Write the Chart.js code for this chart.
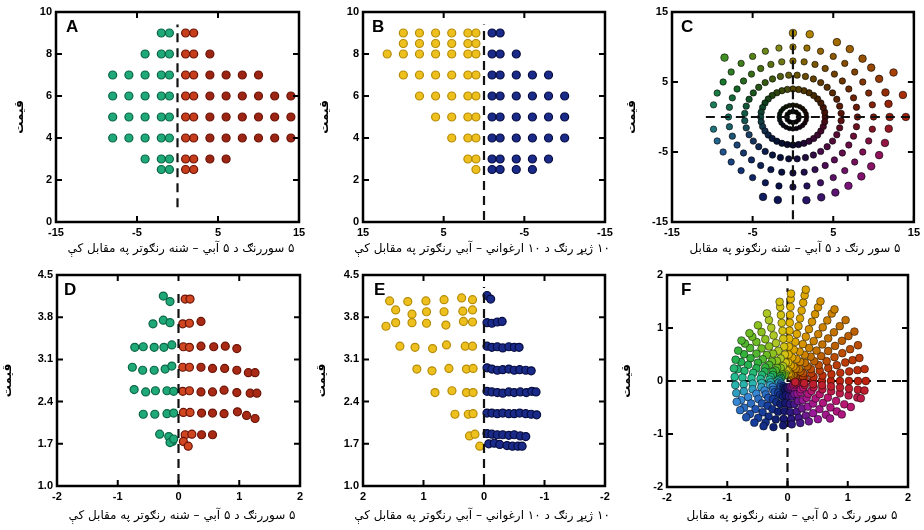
<!DOCTYPE html>
<html lang="ps">
<head>
<meta charset="UTF-8">
<title>قیمت – رنګونه</title>
<script src="https://cdn.jsdelivr.net/npm/chart.js"></script>
<style>
    body { margin: 0; background: #fff; }
    #wrap { position: relative; width: 924px; height: 530px; overflow: hidden; }
    canvas { position: absolute; }
    .tag { position: absolute; font: bold 17px "Liberation Sans", Arial, sans-serif; line-height: 1; color: #000; }
    .xt { position: absolute; width: 300px; text-align: center; direction: rtl; font: 12px "DejaVu Sans", sans-serif; line-height: 16px; color: #000; white-space: nowrap; }
</style>
</head>
<body>
<div id="wrap">
    <canvas id="chA" width="310" height="262" style="left:0;top:0"></canvas>
    <canvas id="chB" width="310" height="262" style="left:305px;top:0"></canvas>
    <canvas id="chC" width="310" height="262" style="left:614px;top:0"></canvas>
    <canvas id="chD" width="310" height="268" style="left:0;top:262px"></canvas>
    <canvas id="chE" width="310" height="268" style="left:305px;top:262px"></canvas>
    <canvas id="chF" width="310" height="268" style="left:614px;top:262px"></canvas>

    <div class="tag" style="left:66px;top:18px">A</div>
    <div class="tag" style="left:372px;top:18px">B</div>
    <div class="tag" style="left:681px;top:18px">C</div>
    <div class="tag" style="left:64px;top:281px">D</div>
    <div class="tag" style="left:374px;top:281px">E</div>
    <div class="tag" style="left:681px;top:281px">F</div>

    <div class="xt" id="tA" style="left:31px;top:240px"></div>
    <div class="xt" id="tB" style="left:332px;top:240px"></div>
    <div class="xt" id="tC" style="left:645px;top:240px"></div>
    <div class="xt" id="tD" style="left:32px;top:507px"></div>
    <div class="xt" id="tE" style="left:332px;top:507px"></div>
    <div class="xt" id="tF" style="left:642px;top:507px"></div>
</div>
<script>
    // ---- texts
    const yTitle = "قیمت";
    const xTitleRG = "۵ سوررنګ د ۵ آبي – شنه رنګوتر په مقابل کې";
    const xTitleYB = "۱۰ ژیړ رنګ د ۱۰ ارغواني – آبي رنګوتر په مقابل کې";
    const xTitleRing = "۵ سور رنګ د ۵ آبي – شنه رنګونو په مقابل";

    // ---- tick values
    const ticks15 = [-15, -5, 5, 15];
    const ticks10 = [0, 2, 4, 6, 8, 10];
    const ticks2 = [-2, -1, 0, 1, 2];
    const ticksD = [1.0, 1.7, 2.4, 3.1, 3.8, 4.5];

    // ---- panel A (rows of y, x values per row)
    const aRows = [9, 8, 7, 6, 5, 4, 3, 2.5];
    const aGreenX = [[-2, -1], [-4, -2, -1], [-8, -6, -4, -2, -1], [-8, -6, -4, -2, -1], [-8, -6, -4, -2, -1], [-8, -6, -4, -2, -1], [-4, -2, -1], [-2, -1]];
    const aRedX = [[1, 2], [1, 2, 4], [1, 2, 4, 6, 8, 10], [1, 2, 4, 6, 8, 10, 12, 14], [1, 2, 4, 6, 8, 10, 12, 14], [1, 2, 4, 6, 8, 10, 12, 14], [1, 2, 4, 6], [1, 2]];
    const aDash = [[0, 0.7], [0, 9.4]];

    // ---- panel B
    const bRows = [9, 8.5, 8, 7, 6, 5, 4, 3, 2.5];
    const bYellowX = [[10, 8, 6, 4, 2, 1], [10, 8, 6, 4, 2, 1], [12, 10, 8, 6, 4, 2, 1], [10, 8, 6, 4, 2, 1], [8, 6, 4, 2, 1], [6, 4, 2, 1], [4, 2, 1], [2, 1], [1]];
    const bBlueX = [[-1, -2], [], [-1, -2, -4], [-1, -2, -4, -6, -8], [-1, -2, -4, -6, -8, -10], [-1, -2, -4, -6, -8, -10], [-1, -2, -4, -6, -8, -10], [-1, -2, -4, -6, -8], [-1, -2, -4, -6]];
    const bDash = [[0, 0.1], [0, 9.4]];

    // ---- panel C (rings: radius and angles in degrees)
    const cRadii = [0.8, 1.7, 4, 6, 8, 10, 12, 14];
    const cAngles = [
        [0, 30, 60, 90, 120, 150, 180, 210, 240, 270, 300, 330],
        [0, 15, 30, 45, 60, 75, 90, 105, 120, 135, 150, 165, 180, 195, 210, 225, 240, 255, 270, 285, 300, 315, 330, 345],
        [0, 10, 20, 30, 40, 50, 60, 70, 80, 90, 100, 110, 120, 130, 140, 150, 160, 170, 180, 190, 200, 210, 220, 230, 240, 250, 260, 270, 280, 290, 300, 310, 320, 330, 340, 350],
        [5, 15, 25, 35, 45, 55, 65, 75, 85, 95, 105, 115, 125, 135, 145, 155, 165, 175, 185, 195, 205, 215, 225, 235, 245, 255, 265, 275, 285, 295, 305, 315, 325, 335, 345, 355],
        [0, 10, 20, 30, 40, 50, 60, 70, 80, 90, 100, 110, 120, 130, 140, 150, 160, 170, 180, 190, 200, 210, 220, 230, 240, 250, 260, 270, 280, 290, 300, 310, 320, 330, 340, 350],
        [0, 10, 20, 30, 40, 50, 60, 70, 80, 90, 100, 110, 120, 130, 140, 150, 160, 170, 190, 200, 210, 220, 230, 240, 250, 260, 270, 280, 290, 300, 310, 320, 330, 340, 350],
        [135, 90, 80, 63, 54, 44, 36, 27, 17, 9, 0, -8, -18, -27, -36, -45, -55, -64, -73, -82, -99, -108],
        [0, 13, 27]
    ];
    const cDashV = [[0, -14.6], [0, 13.2]];
    const cDashH = [[-10.8, 0], [15, 0]];

    // ---- panel D
    const dGreen = [
        [-0.25, 4.15], [-0.14, 4.06],
        [-0.42, 3.69], [-0.25, 3.75], [-0.14, 3.71],
        [-0.72, 3.3], [-0.58, 3.31], [-0.4, 3.3], [-0.24, 3.3], [-0.11, 3.34],
        [-0.76, 2.97], [-0.59, 2.92], [-0.4, 2.92], [-0.22, 2.94], [-0.11, 2.99],
        [-0.73, 2.6], [-0.54, 2.56], [-0.38, 2.58], [-0.19, 2.58], [-0.08, 2.57],
        [-0.58, 2.19], [-0.39, 2.19], [-0.19, 2.2], [-0.08, 2.21],
        [-0.31, 1.86], [-0.16, 1.82], [-0.1, 1.74], [-0.14, 1.72], [-0.08, 1.78]
    ];
    const dRed = [
        [0.11, 4.1], [0.19, 4.1],
        [0.07, 3.69], [0.18, 3.7], [0.37, 3.73],
        [0.08, 3.31], [0.18, 3.3], [0.37, 3.32], [0.58, 3.31], [0.77, 3.32], [0.96, 3.28],
        [0.07, 2.97], [0.18, 2.97], [0.37, 2.97], [0.56, 2.95], [0.76, 2.95], [0.96, 2.92], [1.15, 2.88], [1.26, 2.88],
        [0.07, 2.57], [0.18, 2.58], [0.37, 2.56], [0.56, 2.56], [0.75, 2.59], [0.96, 2.55], [1.18, 2.54], [1.29, 2.54],
        [0.08, 2.22], [0.19, 2.22], [0.38, 2.21], [0.56, 2.21], [0.75, 2.2], [0.97, 2.23], [1.12, 2.17], [1.26, 2.12],
        [0.11, 1.85], [0.22, 1.86], [0.38, 1.85], [0.56, 1.85], [0.08, 1.74], [0.16, 1.66]
    ];
    const dDash = [[0, 1.05], [0, 4.25]];

    // ---- panel E
    const eYellow = [
        [1.56, 4.07], [1.26, 4.06], [0.96, 4.07], [0.66, 4.09], [0.37, 4.12], [0.19, 4.09],
        [1.46, 3.92], [1.19, 3.85], [0.95, 3.89], [0.66, 3.89], [0.35, 3.9], [0.19, 3.92],
        [1.62, 3.65], [1.46, 3.71], [1.19, 3.71], [0.95, 3.7], [0.63, 3.67], [0.34, 3.73], [0.19, 3.72],
        [1.39, 3.32], [1.14, 3.3], [0.85, 3.28], [0.62, 3.34], [0.31, 3.32], [0.19, 3.32],
        [1.11, 2.94], [0.86, 2.91], [0.58, 2.95], [0.29, 2.94], [0.18, 2.95],
        [0.81, 2.55], [0.53, 2.58], [0.29, 2.55], [0.18, 2.55],
        [0.48, 2.19], [0.26, 2.19], [0.18, 2.2],
        [0.24, 1.83], [0.15, 1.86],
        [0.07, 1.66]
    ];
    const eBlue = [
        [-0.05, 4.16], [-0.11, 4.1],
        [-0.05, 3.71], [-0.13, 3.7], [-0.22, 3.72], [-0.3, 3.73],
        [-0.05, 3.32], [-0.13, 3.3], [-0.22, 3.31], [-0.31, 3.29], [-0.41, 3.31], [-0.5, 3.3], [-0.58, 3.3],
        [-0.05, 2.96], [-0.13, 2.94], [-0.22, 2.92], [-0.31, 2.93], [-0.41, 2.94], [-0.5, 2.92], [-0.59, 2.93], [-0.69, 2.92], [-0.78, 2.91],
        [-0.05, 2.57], [-0.13, 2.56], [-0.22, 2.55], [-0.31, 2.54], [-0.41, 2.56], [-0.5, 2.55], [-0.6, 2.56], [-0.7, 2.55], [-0.79, 2.57], [-0.86, 2.56],
        [-0.05, 2.21], [-0.13, 2.21], [-0.22, 2.2], [-0.31, 2.21], [-0.41, 2.2], [-0.5, 2.2], [-0.59, 2.21], [-0.69, 2.2], [-0.78, 2.19], [-0.87, 2.18],
        [-0.05, 1.87], [-0.13, 1.86], [-0.22, 1.85], [-0.31, 1.85], [-0.41, 1.84], [-0.5, 1.85], [-0.6, 1.83], [-0.69, 1.82],
        [-0.08, 1.7], [-0.17, 1.71], [-0.26, 1.69], [-0.38, 1.67], [-0.47, 1.66], [-0.56, 1.66], [-0.63, 1.66]
    ];
    const eDash = [[0, 1.05], [0, 4.3]];

    // ---- panel F (radial streaks: angle in degrees, radii of the dots)
    const fAngles = [0, 10, 20, 30, 40, 50, 60, 70, 80, 88, 95, 105, 115, 125, 135, 145, 155, 165, 175, 185, 195, 205, 215, 225, 235, 245, 255, 265, 275, 285, 295, 305, 315, 325, 335, 345, 352];
    const fRadii = [
        [0.12, 0.27, 0.42, 0.57, 0.72, 0.87, 1.02, 1.17, 1.3],
        [0.14, 0.29, 0.44, 0.59, 0.74, 0.89, 1.04, 1.18, 1.3],
        [0.12, 0.27, 0.42, 0.57, 0.72, 0.87, 1.02, 1.15, 1.27],
        [0.15, 0.3, 0.45, 0.6, 0.75, 0.9, 1.05, 1.2, 1.35],
        [0.13, 0.28, 0.43, 0.58, 0.73, 0.88, 1.03, 1.18, 1.32, 1.45],
        [0.15, 0.3, 0.45, 0.6, 0.75, 0.9, 1.05, 1.2, 1.35, 1.5],
        [0.12, 0.27, 0.42, 0.57, 0.72, 0.87, 1.02, 1.17, 1.32, 1.47, 1.56],
        [0.14, 0.29, 0.44, 0.59, 0.74, 0.89, 1.04, 1.19, 1.34, 1.48, 1.6],
        [0.15, 0.3, 0.45, 0.6, 0.75, 0.9, 1.05, 1.2, 1.35, 1.5, 1.64, 1.75],
        [0.2, 0.35, 0.5, 0.65, 0.8, 0.95, 1.1, 1.25, 1.4, 1.55, 1.65],
        [0.2, 0.35, 0.5, 0.65, 0.8, 0.95, 1.1, 1.25, 1.4, 1.5],
        [0.14, 0.29, 0.44, 0.59, 0.74, 0.89, 1.04, 1.19, 1.32],
        [0.12, 0.27, 0.42, 0.57, 0.72, 0.87, 1.02, 1.16],
        [0.15, 0.3, 0.45, 0.6, 0.75, 0.9, 1.02, 1.1],
        [0.13, 0.28, 0.43, 0.58, 0.73, 0.88, 1.0, 1.08],
        [0.15, 0.3, 0.45, 0.6, 0.75, 0.88, 1.0],
        [0.12, 0.27, 0.42, 0.57, 0.72, 0.85, 0.95],
        [0.14, 0.29, 0.44, 0.59, 0.74, 0.86, 0.92],
        [0.15, 0.3, 0.45, 0.6, 0.75, 0.88],
        [0.13, 0.28, 0.43, 0.58, 0.73, 0.87],
        [0.15, 0.3, 0.45, 0.6, 0.75, 0.88],
        [0.12, 0.27, 0.42, 0.57, 0.72, 0.85, 0.93],
        [0.14, 0.29, 0.44, 0.59, 0.74, 0.88, 0.96],
        [0.15, 0.3, 0.45, 0.6, 0.75, 0.88, 0.97],
        [0.12, 0.27, 0.42, 0.57, 0.72, 0.85, 0.96],
        [0.14, 0.29, 0.44, 0.59, 0.74, 0.86, 0.94],
        [0.15, 0.3, 0.45, 0.6, 0.75, 0.9],
        [0.12, 0.27, 0.42, 0.57, 0.72, 0.84],
        [0.14, 0.29, 0.44, 0.59, 0.72, 0.82],
        [0.15, 0.3, 0.45, 0.6, 0.72, 0.82],
        [0.12, 0.27, 0.42, 0.57, 0.72, 0.84],
        [0.14, 0.29, 0.44, 0.59, 0.74, 0.88],
        [0.15, 0.3, 0.45, 0.6, 0.75, 0.9, 1.0],
        [0.12, 0.27, 0.42, 0.57, 0.72, 0.87, 1.0, 1.1],
        [0.14, 0.29, 0.44, 0.59, 0.74, 0.89, 1.04, 1.16],
        [0.15, 0.3, 0.45, 0.6, 0.75, 0.9, 1.05, 1.2, 1.26],
        [0.13, 0.28, 0.43, 0.58, 0.73, 0.88, 1.03, 1.18, 1.29]
    ];
    const fDashV = [[0, -2], [0, 1.75]];
    const fDashH = [[-2, 0], [2, 0]];

    // ---- helpers
    function rowsToPts(rows, xs) {
        const p = [];
        rows.forEach((y, i) => xs[i].forEach(x => p.push({ x: x, y: y })));
        return p;
    }
    function pairs(arr) { return arr.map(v => ({ x: v[0], y: v[1] })); }
    function polar(radii, angles) {
        const p = [];
        radii.forEach((r, i) => angles[i].forEach(a => {
            const t = a * Math.PI / 180;
            p.push({ x: r * Math.cos(t), y: r * Math.sin(t), a: a, r: r });
        }));
        return p;
    }
    function spokes(angles, radii) {
        const p = [];
        angles.forEach((a, i) => radii[i].forEach(r => {
            const t = a * Math.PI / 180;
            p.push({ x: r * Math.cos(t), y: r * Math.sin(t), a: a, r: r });
        }));
        return p;
    }

    // hue wheel used for panels C and F
    const hueStops = [
        [-180, [40, 200, 170]], [-155, [58, 142, 224]], [-128, [26, 70, 170]], [-100, [14, 26, 112]],
        [-78, [60, 26, 140]], [-55, [160, 26, 160]], [-25, [196, 24, 120]], [0, [200, 36, 16]],
        [20, [196, 64, 10]], [45, [200, 110, 0]], [70, [226, 156, 0]], [90, [242, 196, 0]],
        [100, [200, 214, 40]], [120, [130, 200, 30]], [150, [40, 185, 70]], [180, [40, 200, 170]]
    ];
    function hueRGB(deg) {
        let d = ((deg + 180) % 360 + 360) % 360 - 180;
        for (let i = 0; i < hueStops.length - 1; i++) {
            const s0 = hueStops[i], s1 = hueStops[i + 1];
            if (d >= s0[0] && d <= s1[0]) {
                const k = (d - s0[0]) / (s1[0] - s0[0]);
                return s0[1].map((c, j) => c + (s1[1][j] - c) * k);
            }
        }
        return hueStops[0][1];
    }
    function shade(c, f) { return "rgb(" + c.map(v => Math.round(v * f)).join(",") + ")"; }

    const tickFont = { family: "'Liberation Sans', Arial, sans-serif", size: 11, weight: "bold" };
    const titleFont = { family: "'DejaVu Sans', sans-serif", size: 12, weight: "bold" };

    // frame + inward tick marks on all four sides
    const frameTicks = {
        id: "frameTicks",
        afterDraw(chart) {
            const { ctx, chartArea: a, scales } = chart;
            ctx.save();
            ctx.strokeStyle = "#000";
            ctx.lineWidth = 2;
            ctx.beginPath();
            scales.x.ticks.forEach(t => {
                const px = scales.x.getPixelForValue(t.value);
                ctx.moveTo(px, a.bottom); ctx.lineTo(px, a.bottom - 6);
                ctx.moveTo(px, a.top); ctx.lineTo(px, a.top + 6);
            });
            scales.y.ticks.forEach(t => {
                const py = scales.y.getPixelForValue(t.value);
                ctx.moveTo(a.left, py); ctx.lineTo(a.left + 6, py);
                ctx.moveTo(a.right, py); ctx.lineTo(a.right - 6, py);
            });
            ctx.stroke();
            ctx.lineWidth = 2.5;
            ctx.strokeRect(a.left, a.top, a.right - a.left, a.bottom - a.top);
            ctx.restore();
        }
    };

    function dash(pts) {
        return {
            data: pairs(pts), showLine: true, pointRadius: 0, borderColor: "#111",
            borderWidth: 2.2, borderDash: [9, 6], fill: false
        };
    }
    function dots(data, fill, stroke, r) {
        return { data: data, pointRadius: r, pointBackgroundColor: fill, pointBorderColor: stroke, pointBorderWidth: 1.2, showLine: false };
    }

    function panel(id, o) {
        return new Chart(document.getElementById(id), {
            type: "scatter",
            data: { datasets: o.sets },
            options: {
                responsive: false,
                animation: false,
                events: [],
                layout: { padding: { top: o.pad[0], right: o.pad[1], bottom: 0, left: 0 } },
                plugins: { legend: { display: false }, tooltip: { enabled: false } },
                scales: {
                    x: {
                        type: "linear", min: o.xr[0], max: o.xr[1], reverse: !!o.rev,
                        afterBuildTicks: s => { s.ticks = o.xt.map(v => ({ value: v })); },
                        afterFit: s => { s.height = o.xh; },
                        grid: { display: false, drawTicks: false },
                        border: { display: false },
                        ticks: { autoSkip: false, maxRotation: 0, padding: 4, color: "#000", font: tickFont, callback: v => String(v) }
                    },
                    y: {
                        type: "linear", min: o.yr[0], max: o.yr[1],
                        afterBuildTicks: s => { s.ticks = o.yt.map(v => ({ value: v })); },
                        afterFit: s => { s.width = o.yw; },
                        grid: { display: false, drawTicks: false },
                        border: { display: false },
                        ticks: { autoSkip: false, padding: 4, color: "#000", font: tickFont, callback: v => o.yf ? v.toFixed(o.yf) : String(v) },
                        title: { display: true, text: yTitle, color: "#000", font: titleFont, padding: { top: o.ytp, bottom: 0 } }
                    }
                }
            },
            plugins: [frameTicks]
        });
    }

    const green = "#1fa878", greenEdge = "#0c6646";
    const redFill = c => (c.raw && c.raw.x > 2.5 ? "#9c2412" : "#c63d1c");
    const redFillD = c => (c.raw && c.raw.x > 0.3 ? "#a82a14" : "#cf4620");
    const redEdge = "#6a1408";
    const yellow = "#eec01e", yellowEdge = "#b58c0a";
    const blue = "#1a2a88", blueEdge = "#070d40";

    // A
    panel("chA", {
        pad: [12, 11], yw: 56, xh: 40, ytp: 13,
        xr: [-15, 15], yr: [0, 10], xt: ticks15, yt: ticks10,
        sets: [dash(aDash), dots(rowsToPts(aRows, aGreenX), green, greenEdge, 4), dots(rowsToPts(aRows, aRedX), redFill, redEdge, 4)]
    });
    // B
    panel("chB", {
        pad: [12, 10], yw: 58, xh: 40, ytp: 13, rev: true,
        xr: [-15, 15], yr: [0, 10], xt: ticks15, yt: ticks10,
        sets: [dash(bDash), dots(rowsToPts(bRows, bYellowX), yellow, yellowEdge, 4), dots(rowsToPts(bRows, bBlueX), blue, blueEdge, 4)]
    });
    // C
    const cPts = polar(cRadii, cAngles);
    panel("chC", {
        pad: [12, 9], yw: 58, xh: 40, ytp: 11,
        xr: [-15, 15], yr: [-15, 15], xt: ticks15, yt: ticks15,
        sets: [dash(cDashV), dash(cDashH), {
            data: cPts, showLine: false,
            pointRadius: c => (c.raw.r < 2 ? 2.3 : c.raw.r > 11 ? 3.8 : 3.2),
            pointBackgroundColor: c => shade(hueRGB(c.raw.a), c.raw.r < 1 ? 0.05 : c.raw.r < 2 ? 0.12 : 0.15 + 0.05 * c.raw.r),
            pointBorderColor: "rgba(0,0,0,0.6)", pointBorderWidth: 1
        }]
    });
    // D
    panel("chD", {
        pad: [13, 10], yw: 57, xh: 44, ytp: 1, yf: 1,
        xr: [-2, 2], yr: [1, 4.5], xt: ticks2, yt: ticksD,
        sets: [dash(dDash), dots(pairs(dGreen), green, greenEdge, 4), dots(pairs(dRed), redFillD, redEdge, 4)]
    });
    // E
    panel("chE", {
        pad: [13, 10], yw: 58, xh: 44, ytp: 10, yf: 1, rev: true,
        xr: [-2, 2], yr: [1, 4.5], xt: ticks2, yt: ticksD,
        sets: [dash(eDash), dots(pairs(eYellow), yellow, yellowEdge, 4), dots(pairs(eBlue), blue, blueEdge, 4)]
    });
    // F
    const fPts = spokes(fAngles, fRadii);
    panel("chF", {
        pad: [13, 16], yw: 53, xh: 43, ytp: 6,
        xr: [-2, 2], yr: [-2, 2], xt: ticks2, yt: ticks2,
        sets: [{
            data: fPts, showLine: false, pointRadius: 3.9,
            pointBackgroundColor: c => shade(hueRGB(c.raw.a), 0.95),
            pointBorderColor: "rgba(0,0,0,0.55)", pointBorderWidth: 0.9
        }, dash(fDashV), dash(fDashH)]
    });

    document.getElementById("tA").textContent = xTitleRG;
    document.getElementById("tD").textContent = xTitleRG;
    document.getElementById("tB").textContent = xTitleYB;
    document.getElementById("tE").textContent = xTitleYB;
    document.getElementById("tC").textContent = xTitleRing;
    document.getElementById("tF").textContent = xTitleRing;
</script>
</body>
</html>
